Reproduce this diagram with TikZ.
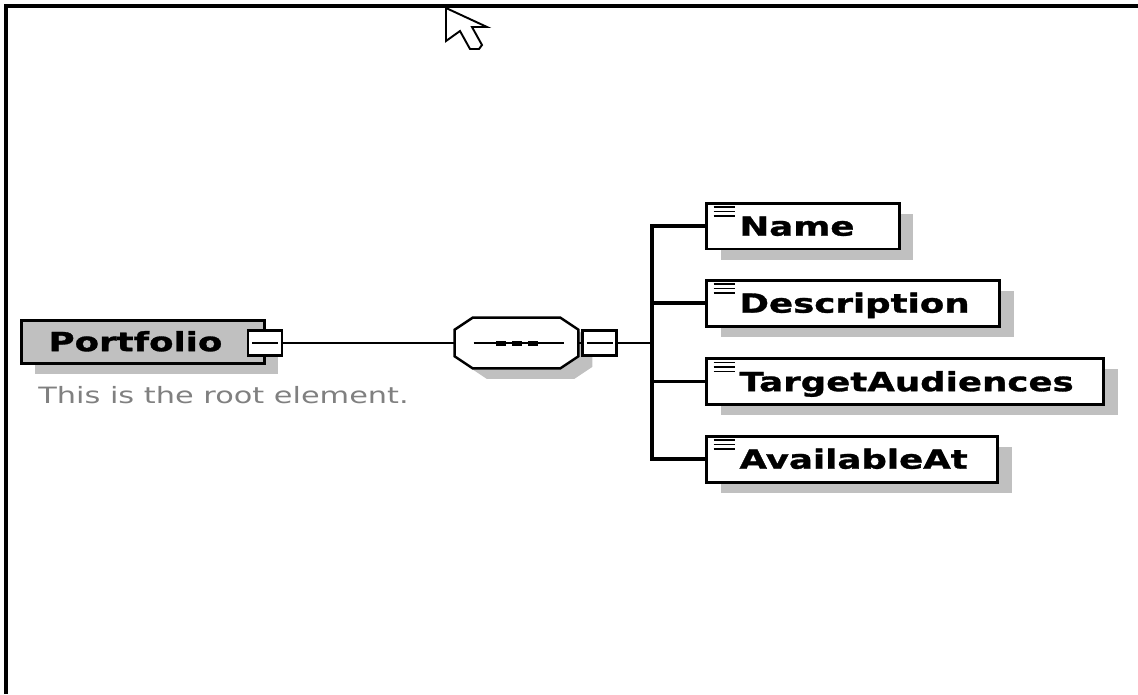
\documentclass[tikz,border=0pt]{standalone}
\usepackage{fontspec}
\newfontfamily\pixfont[FakeStretch=1.35, BoldFeatures={FakeBold=1.2}]{DejaVu Sans}
\usepackage{tikz}
\usetikzlibrary{positioning, shadows, calc}
\definecolor{shgray}{RGB}{192,192,192}
\definecolor{notegray}{RGB}{128,128,128}
\tikzset{
  gshadow/.style = {drop shadow={shadow xshift=0.28cm, shadow yshift=-0.21cm,
                    fill=shgray, opacity=1}},
  elem/.style    = {draw, line width=1.7pt, anchor=west, minimum height=0.92cm,
                    inner ysep=0pt, text height=11pt, text depth=0pt,
                    font=\pixfont\bfseries\fontsize{15}{18}\selectfont, gshadow},
  root/.style    = {elem, fill=shgray, minimum width=4.86cm, minimum height=0.86cm},
  kid/.style     = {elem, fill=white, inner xsep=0pt,
                    execute at begin node=\hspace*{0.66cm},
                    execute at end node=\hspace*{0.6cm},
                    path picture={\foreach \k in {0,1,2}
                      \draw[line width=1.1pt] ([shift={(7,4+4.5*\k)}]path picture bounding box.north west) -- ++(21,0);}},
  tog/.style     = {draw, fill=white, line width=1.5pt, minimum width=0.68cm,
                    minimum height=0.5cm, inner sep=0pt},
  conn/.style    = {line width=1.4pt},
  trunkline/.style = {line width=1.8pt},
  note/.style    = {font=\pixfont\fontsize{12.8}{15}\selectfont, text=notegray,
                    anchor=west, inner sep=0pt},
}

\begin{document}
\begin{tikzpicture}[x=0.02cm, y=-0.02cm]
    \useasboundingbox (0,0) rectangle (1138,694);

    % window frame and mouse pointer
    \draw[line width=0.08cm] (6,694) -- (6,6) -- (1138,6);
    \draw[line width=1.1pt, fill=white] (446,8) -- (487,27) -- (472,27) -- (482,45)
        -- (479,49) -- (470,49) -- (460,31) -- (446,41) -- cycle;

    % root element
    \node[root] (portfolio) at (20,341.5) {Portfolio\hspace*{0.3cm}};
    \node[tog] (ptog) at (265,343) {\rule{0.52cm}{1.2pt}};
    \node[note] (rootnote) at (38,395) {This is the root element.};

    % sequence compositor
    \node[inner sep=0pt, minimum width=2.46cm, minimum height=1cm] (seq) at (516.5,343) {};
    \path[draw, fill=white, line width=1.4pt, gshadow]
        ([shift={(18,0)}]seq.north west) -- ([shift={(-18,0)}]seq.north east)
        -- ([shift={(0,12)}]seq.north east) -- ([shift={(0,-12)}]seq.south east)
        -- ([shift={(-18,0)}]seq.south east) -- ([shift={(18,0)}]seq.south west)
        -- ([shift={(0,-12)}]seq.south west) -- ([shift={(0,12)}]seq.north west) -- cycle;
    \draw[conn] ([shift={(-43,0)}]seq.center) -- ([shift={(47,0)}]seq.center);
    \foreach \d in {-16,0,16}
      \fill ([shift={(\d-5,-2.5)}]seq.center) rectangle ([shift={(\d+5,2.5)}]seq.center);
    \node[tog] (stog) at (599.5,343) {\rule{0.52cm}{1.2pt}};
    \coordinate (trunk) at (652,343);

    % child elements
    \node[kid] (name)   at (705,226)   {Name\hspace*{0.3cm}};
    \node[kid] (desc)   at (705,303)   {Description};
    \node[kid] (target) at (705,381.5) {TargetAudiences};
    \node[kid] (avail)  at (705,459)   {AvailableAt};

    \draw[conn] (ptog) -- (seq);
    \draw[conn] (seq) -- (stog);
    \draw[conn] (stog) -- (trunk);
    \foreach \c in {name,desc,target,avail}
      \draw[trunkline] (trunk) |- (\c.west);
\end{tikzpicture}
\end{document}
